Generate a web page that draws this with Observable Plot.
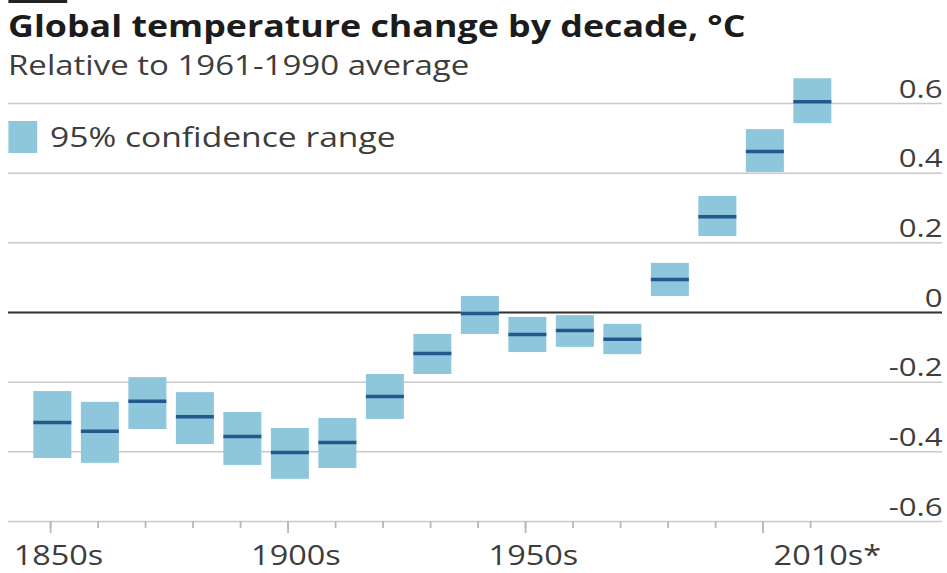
<!DOCTYPE html>
<html>
<head>
<meta charset="utf-8">
<script src="https://cdn.jsdelivr.net/npm/d3@7"></script>
<script src="https://cdn.jsdelivr.net/npm/@observablehq/plot@0.6"></script>
<style>
  html, body { margin: 0; padding: 0; background: #fff; overflow: hidden; }
  /* The graphic is laid out at 789px and widened to fill 947px */
  #chart {
    position: relative; width: 789px; height: 573px;
    transform: scaleX(1.2003); transform-origin: 0 0;
    font-family: "Open Sans", sans-serif;
  }
  .kicker { position: absolute; left: 6.67px; top: 0; width: 49px; height: 3px; background: #222; }
  .title {
    position: absolute; left: 6.67px; top: 11px; margin: 0;
    font-size: 29.8px; font-weight: 700; line-height: 1; color: #1c1c1c; white-space: nowrap;
  }
  .subtitle {
    position: absolute; left: 6.67px; top: 51px; margin: 0;
    font-size: 27.5px; line-height: 1; color: #3d3d3d; white-space: nowrap;
  }
  .legend {
    position: absolute; left: 6.67px; top: 121px; height: 32px;
    font-size: 28px; line-height: 1; color: #3d3d3d; white-space: nowrap;
  }
  .legend .swatch { position: absolute; left: 0; top: 0; width: 24.2px; height: 32px; background: #8ec7dc; }
  .legend .label { position: absolute; left: 35px; top: 1px; }
  #plot { position: absolute; left: 0; top: 58px; }
</style>
</head>
<body>
<div id="chart">
  <div class="kicker"></div>
  <div class="title">Global temperature change by decade, °C</div>
  <div class="subtitle">Relative to 1961-1990 average</div>
  <div id="plot"></div>
  <div class="legend"><span class="swatch"></span><span class="label">95% confidence range</span></div>
</div>
<script>
// Decadal temperature anomaly (°C, relative to 1961-1990) with 95% confidence range
const decades = [1850, 1860, 1870, 1880, 1890, 1900, 1910, 1920, 1930, 1940, 1950, 1960, 1970, 1980, 1990, 2000, 2010];
const means   = [-0.316, -0.341, -0.255, -0.299, -0.356, -0.402, -0.373, -0.241, -0.118, -0.003, -0.063, -0.052, -0.077, 0.095, 0.275, 0.462, 0.605];
const upper   = [-0.227, -0.258, -0.187, -0.230, -0.287, -0.333, -0.304, -0.178, -0.063, 0.046, -0.014, -0.009, -0.034, 0.141, 0.333, 0.525, 0.671];
const lower   = [-0.419, -0.433, -0.336, -0.379, -0.439, -0.479, -0.448, -0.307, -0.178, -0.063, -0.115, -0.100, -0.121, 0.046, 0.218, 0.402, 0.542];

const yTicks = [-0.6, -0.4, -0.2, 0, 0.2, 0.4, 0.6];
const majorTickDecades = [1850, 1900, 1950, 2000];
const labelDecades = [1850, 1900, 1950, 2010];
const xTickLabels = ["1850s", "1900s", "1950s", "2010s*"];

const table = decades.map((decade, i) => ({decade, mean: means[i], hi: upper[i], lo: lower[i]}));

// each decade is drawn as a box 8 years wide, centred just past the decade tick
const left = d => d.decade + 0.5 - 4;
const right = d => d.decade + 0.5 + 4;
const fmtY = v => (v === 0 ? "0" : v.toFixed(1));

const chart = Plot.plot({
  width: 789,
  height: 515,
  marginLeft: 6.67,
  marginRight: 4.17,
  marginTop: 45,
  marginBottom: 52,
  x: {domain: [1841.16, 2037.8]},
  y: {domain: [-0.6, 0.6]},
  style: {background: "transparent", overflow: "visible", fontFamily: "Open Sans, sans-serif"},
  marks: [
    Plot.gridY(yTicks, {stroke: "#c9c9c9", strokeOpacity: 1, strokeWidth: 1.5}),
    Plot.ruleY([0], {stroke: "#333", strokeWidth: 2}),
    Plot.rect(table, {x1: left, x2: right, y1: "lo", y2: "hi", fill: "#8ec7dc"}),
    Plot.ruleY(table, {y: "mean", x1: left, x2: right, stroke: "#23588c", strokeWidth: 3.5}),
    Plot.axisY(yTicks, {
      anchor: "right", tickSize: 0, tickPadding: 0, textAnchor: "end", dy: -14,
      tickFormat: fmtY, fontSize: 26, fill: "#3d3d3d", label: null
    }),
    Plot.axisX(decades, {anchor: "bottom", tickSize: 7, text: null, stroke: "#b8b8b8", strokeWidth: 1.5, label: null}),
    Plot.axisX(majorTickDecades, {anchor: "bottom", tickSize: 12, text: null, stroke: "#b8b8b8", strokeWidth: 1.5, label: null}),
    Plot.axisX(labelDecades, {
      anchor: "bottom", tickSize: 0, tickPadding: 24, textAnchor: "start", dx: -30.8,
      tickFormat: d => xTickLabels[labelDecades.indexOf(d)], fontSize: 27, fill: "#3d3d3d", label: null
    })
  ]
});

document.getElementById("plot").appendChild(chart);
</script>
</body>
</html>
